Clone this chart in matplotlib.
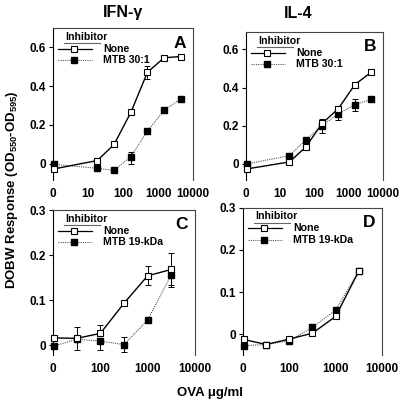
import numpy as np
import matplotlib
matplotlib.use("Agg")
import matplotlib.pyplot as plt
from matplotlib.transforms import ScaledTranslation, Affine2D
from matplotlib.lines import Line2D

plt.rcParams['font.family'] = ['Liberation Sans', 'DejaVu Sans']
plt.rcParams['font.weight'] = 'bold'
plt.rcParams['mathtext.fontset'] = 'custom'
plt.rcParams['mathtext.rm'] = 'Liberation Sans:bold'
plt.rcParams['mathtext.bf'] = 'Liberation Sans:bold'
plt.rcParams['mathtext.it'] = 'Liberation Sans:bold'

# ---- data ----
dose_top = [0, 18.5, 55.6, 167, 500, 1500, 4500]
dose_bot = [0, 31.6, 100, 316, 1000, 3160]

a_none = [-0.027, 0.016, 0.099, 0.264, 0.472, 0.547, 0.553]
a_mtb = [-0.004, -0.024, -0.035, 0.036, 0.168, 0.276, 0.335]
a_none_lo = [0, 0, 0, 0, 0.035, 0, 0]
a_none_hi = [0, 0, 0, 0, 0.03, 0, 0]
a_mtb_lo = [0, 0, 0, 0.037, 0, 0, 0]
a_mtb_hi = [0, 0, 0, 0.022, 0, 0, 0]

b_none = [-0.026, 0.01, 0.088, 0.212, 0.29, 0.415, 0.48]
b_mtb = [0.0, 0.043, 0.125, 0.2, 0.263, 0.31, 0.338]
b_none_lo = [0, 0, 0, 0, 0, 0, 0]
b_none_hi = [0, 0, 0, 0.025, 0, 0, 0]
b_mtb_lo = [0, 0, 0, 0.04, 0.035, 0.035, 0]
b_mtb_hi = [0, 0, 0, 0.03, 0, 0.03, 0]

c_none = [0.016, 0.015, 0.026, 0.093, 0.154, 0.168]
c_mtb = [-0.002, 0.013, 0.009, 0.001, 0.056, 0.156]
c_none_lo = [0, 0, 0, 0, 0.021, 0.038]
c_none_hi = [0, 0.026, 0.019, 0, 0.021, 0.037]
c_mtb_lo = [0, 0.024, 0.019, 0.016, 0, 0.022]
c_mtb_hi = [0, 0, 0, 0.018, 0, 0]

d_none = [-0.013, -0.025, -0.012, 0.002, 0.042, 0.15]
d_mtb = [-0.028, -0.025, -0.016, 0.016, 0.057, 0.15]

titles = ['IFN-\u03b3', 'IL-4']
legend_top = ['None', 'MTB 30:1']
legend_bot = ['None', 'MTB 19-kDa']
xticks_top = [1, 10, 100, 1000, 10000]
xtlabels_top = ['0', '10', '100', '1000', '10000']
xticks_bot = [10, 100, 1000, 10000]
xtlabels_bot = ['0', '100', '1000', '10000']

fig = plt.figure(figsize=(4.0, 4.13), dpi=100)

pos = {
    'A': [0.1325, 0.564, 0.35, 0.368],
    'B': [0.615, 0.564, 0.3425, 0.358],
    'C': [0.1325, 0.1404, 0.355, 0.351],
    'D': [0.6075, 0.1404, 0.3475, 0.356],
}

FS = 8.5
LFS = 7.6


def place_x(doses, zero_pos):
    return [zero_pos if d == 0 else d for d in doses]


def draw_legend(ax, labels):
    # pixel offsets relative to the top-left corner of the axes
    t = Affine2D().scale(fig.dpi / 100.0) + ScaledTranslation(0, 1, ax.transAxes)
    ax.text(12, -8.5, 'Inhibitor', transform=t, fontsize=LFS,
            fontweight='bold', ha='left', va='center')
    ax.add_line(Line2D([11, 47], [-15, -15], color='#666666', lw=0.8,
                       transform=t, clip_on=False))
    ax.add_line(Line2D([5, 39], [-20.5, -20.5], color='black', lw=0.9,
                       transform=t, clip_on=False))
    ax.add_line(Line2D([21], [-20.5], color='black', marker='s', ms=4.8,
                       mfc='white', mec='black', mew=0.8, transform=t, clip_on=False))
    ax.add_line(Line2D([5, 39], [-32, -32], color='#555555', lw=0.8, ls=(0, (1, 1)),
                       transform=t, clip_on=False))
    ax.add_line(Line2D([21], [-32], color='black', marker='s', ms=4.8,
                       mfc='black', mec='black', transform=t, clip_on=False))
    ax.text(50, -20.5, labels[0], transform=t, fontsize=LFS, va='center', ha='left')
    ax.text(50, -32, labels[1], transform=t, fontsize=LFS, va='center', ha='left')


def panel(key, doses, zero_pos, none, mtb, nlo, nhi, mlo, mhi, ylim, yticks,
          yticklabels, xlim, xticks, xtlabels, leg):
    ax = fig.add_axes(pos[key])
    x = place_x(doses, zero_pos)
    ax.plot(x, mtb, color='#555555', lw=0.8, ls=(0, (1, 1)), marker='s', ms=4.8,
            mfc='black', mec='black', zorder=3, clip_on=False)
    ax.plot(x, none, color='black', lw=1.0, marker='s', ms=4.8,
            mfc='white', mec='black', mew=0.8, zorder=4, clip_on=False)
    if nlo is not None:
        ax.errorbar(x, none, yerr=[nlo, nhi], fmt='none', ecolor='black',
                    elinewidth=0.7, capsize=2, capthick=0.7, zorder=2)
        ax.errorbar(x, mtb, yerr=[mlo, mhi], fmt='none', ecolor='black',
                    elinewidth=0.7, capsize=2, capthick=0.7, zorder=2)
    ax.set_xscale('log')
    ax.set_xlim(*xlim)
    ax.set_ylim(*ylim)
    ax.set_xticks(xticks)
    ax.set_xticklabels(xtlabels)
    ax.minorticks_off()
    ax.set_yticks(yticks)
    ax.set_yticklabels(yticklabels)
    ax.tick_params(axis='x', length=0, pad=6, labelsize=FS)
    ax.tick_params(axis='y', length=3, width=0.8, pad=2, labelsize=FS)
    for lab in ax.get_xticklabels() + ax.get_yticklabels():
        lab.set_fontweight('bold')
    ax.spines['bottom'].set_visible(False)
    for s in ['left', 'right', 'top']:
        ax.spines[s].set_linewidth(0.8)
        ax.spines[s].set_color('#444444')
    ax.spines['left'].set_color('black')
    ax.text(0.95, 0.9, key, transform=ax.transAxes, fontsize=12.5,
            fontweight='bold', ha='right', va='center')
    draw_legend(ax, leg)
    return ax


panel('A', dose_top, 1.1, a_none, a_mtb, a_none_lo, a_none_hi, a_mtb_lo, a_mtb_hi,
      (-0.085, 0.7), [0, 0.2, 0.4, 0.6], ['0', '0.2', '0.4', '0.6'],
      (1, 10000), xticks_top, xtlabels_top, legend_top)
panel('B', dose_top, 1.1, b_none, b_mtb, b_none_lo, b_none_hi, b_mtb_lo, b_mtb_hi,
      (-0.085, 0.69), [0, 0.2, 0.4, 0.6], ['0', '0.2', '0.4', '0.6'],
      (1, 10000), xticks_top, xtlabels_top, legend_top)
panel('C', dose_bot, 10.5, c_none, c_mtb, c_none_lo, c_none_hi, c_mtb_lo, c_mtb_hi,
      (-0.022, 0.3), [0, 0.1, 0.2, 0.3], ['0', '0.1', '0.2', '0.3'],
      (10, 10000), xticks_bot, xtlabels_bot, legend_bot)
panel('D', dose_bot, 10.5, d_none, d_mtb, None, None, None, None,
      (-0.05, 0.3), [0, 0.1, 0.2, 0.3], ['0', '0.1', '0.2', '0.3'],
      (10, 10000), xticks_bot, xtlabels_bot, legend_bot)

fig.text(123 / 400, 1 - 13 / 413, titles[0], fontsize=11.5, fontweight='bold',
         ha='center', va='center')
fig.text(298 / 400, 1 - 13 / 413, titles[1], fontsize=11.5, fontweight='bold',
         ha='center', va='center')
fig.text(12 / 400, 1 - 190 / 413,
         r'DOBW Response (OD$_{550}$-OD$_{595}$)', rotation=90, fontsize=9.5,
         fontweight='bold', ha='center', va='center')
fig.text(210 / 400, 1 - 393 / 413, 'OVA \u03bcg/ml', fontsize=9.5,
         fontweight='bold', ha='center', va='center')

fig.savefig('out.png', dpi=100)
